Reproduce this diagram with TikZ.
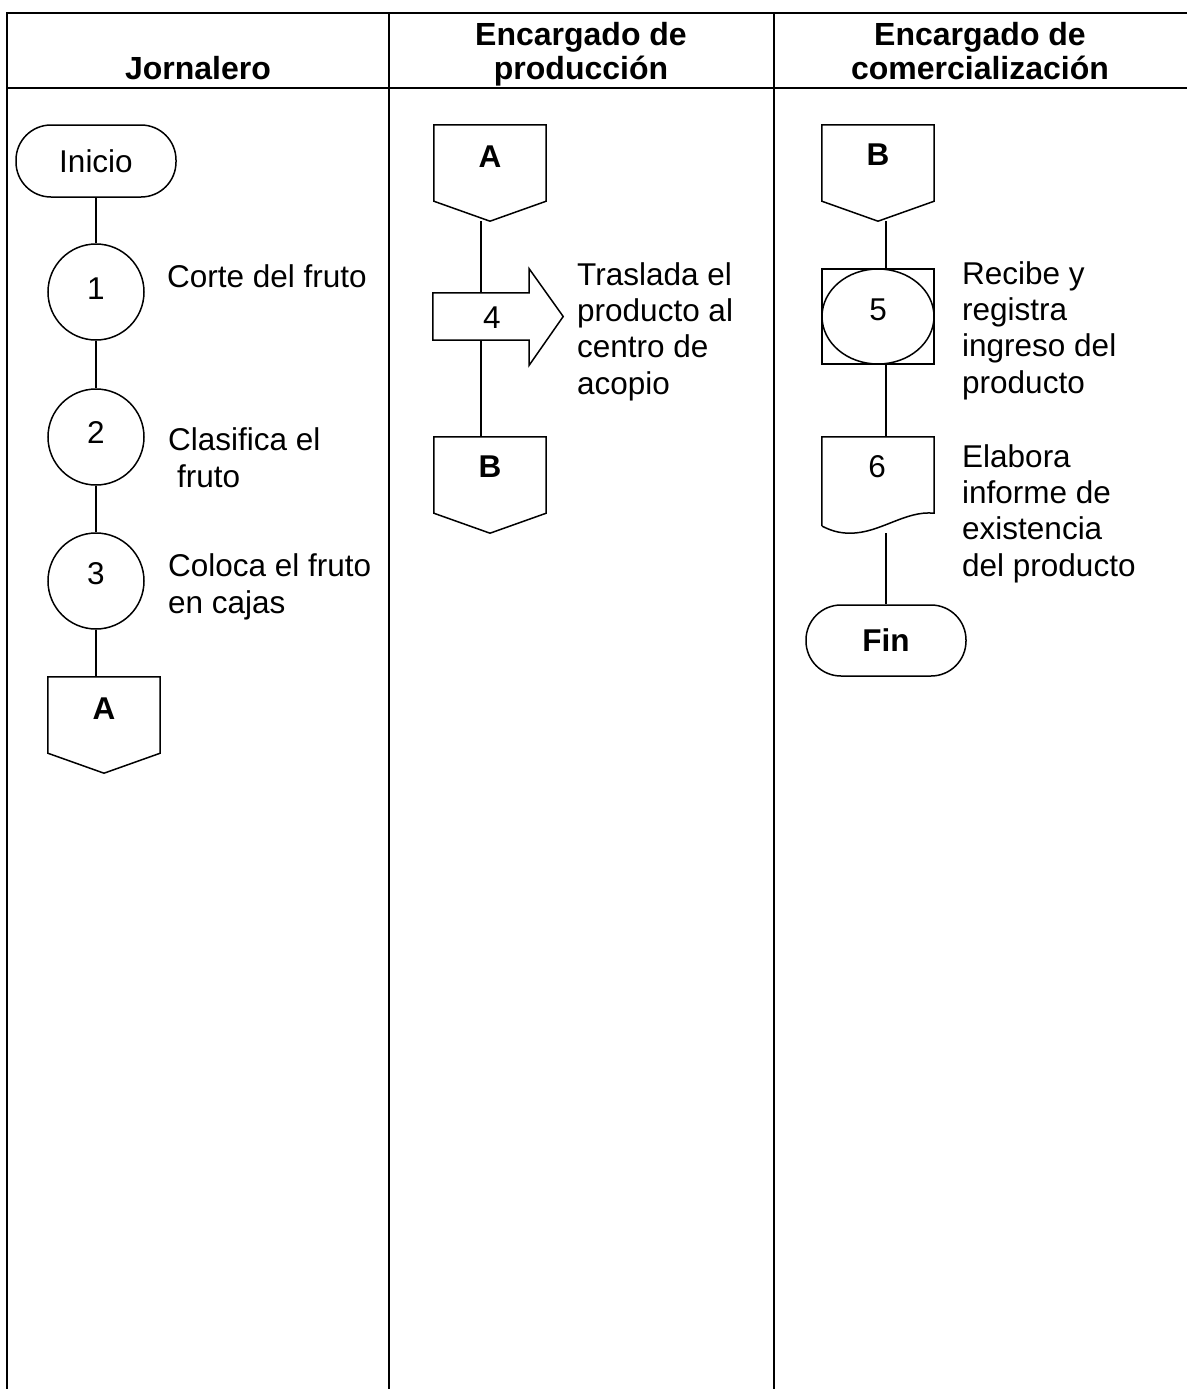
\documentclass[tikz,border=0pt]{standalone}
\usepackage{fontspec}
\setmainfont{Liberation Sans}
\usetikzlibrary{calc}
\begin{document}
\begin{tikzpicture}[x=1pt,y=-1pt,
  tbl/.style={line width=2.6pt},
  shp/.style={line width=1.5pt},
  bodytxt/.style={font=\fontsize{31.5}{36.3}\selectfont, inner sep=0pt, align=left, anchor=base west},
  headtxt/.style={font=\fontsize{32}{35}\selectfont\bfseries, inner sep=0pt, align=center, anchor=base},
  lbl/.style={font=\fontsize{31.5}{36}\selectfont, inner sep=0pt, anchor=base},
  blbl/.style={font=\fontsize{31.5}{36}\selectfont\bfseries, inner sep=0pt, anchor=base},
  circ/.style={shp, draw, circle, minimum size=96pt, inner sep=0pt},
  term/.style={shp, draw, rectangle, rounded corners=35pt, minimum width=160pt, minimum height=72pt, inner sep=0pt, font=\fontsize{31.5}{36}\selectfont},
  offp/.style={rectangle, minimum width=112pt, minimum height=96pt, inner sep=0pt},
  boxsh/.style={rectangle, inner sep=0pt}
]
\useasboundingbox (0,0) rectangle (1187,1389);
\fill[white] (0,0) rectangle (1187,1389);

% table
\draw[tbl] (7,1389) -- (7,13) -- (1187,13);
\draw[tbl] (7,88) -- (1187,88);
\draw[tbl] (389,13) -- (389,1389);
\draw[tbl] (774,13) -- (774,1389);

% headers (anchor base = baseline of last line)
\node[headtxt] (h1) at (198,79) {Jornalero};
\node[headtxt] (h2) at (581,80) {Encargado de\\producción};
\node[headtxt] (h3) at (980,80) {Encargado de\\comercialización};

% ---------- lane 1
\node[term] (ini) at (96,161) {Inicio};
\node[circ] (c1) at (96,292) {};
\node[lbl] (c1t) at (96,299) {1};
\node[circ] (c2) at (96,437) {};
\node[lbl] (c2t) at (96,443) {2};
\node[circ] (c3) at (96,581) {};
\node[lbl] (c3t) at (96,584) {3};
\node[offp] (A1) at (104,725) {};
\draw[shp] (A1.north west) -- (A1.north east) -- ([shift={(0,-20)}]A1.south east) -- (A1.south) -- ([shift={(0,-20)}]A1.south west) -- cycle;
\node[blbl] (A1t) at (104,719) {A};

\node[bodytxt] (t1) at (167,287) {Corte del fruto};
\node[bodytxt] (t2) at (168,487) {Clasifica el\\\hspace*{0.28em}fruto};
\node[bodytxt] (t3) at (168,613) {Coloca el fruto\\en cajas};

\draw[shp] (ini) -- (c1);
\draw[shp] (c1) -- (c2);
\draw[shp] (c2) -- (c3);
\draw[shp] (c3.south) -- (c3.south |- A1.north);

% ---------- lane 2
\node[offp] (A2) at (490,173) {};
\draw[shp] (A2.north west) -- (A2.north east) -- ([shift={(0,-20)}]A2.south east) -- (A2.south) -- ([shift={(0,-20)}]A2.south west) -- cycle;
\node[blbl] (A2t) at (490,167) {A};

\node[boxsh, minimum width=96pt, minimum height=47pt] (arr) at (481,316.5) {};
\draw[shp] (arr.north west) -- (arr.north east) -- ([shift={(0,-24)}]arr.north east) -- ([shift={(34,0)}]arr.east) -- ([shift={(0,25)}]arr.south east) -- (arr.south east) -- (arr.south west) -- cycle;
\node[lbl] (arrt) at (492,328) {4};

\node[offp] (B2) at (490,485) {};
\draw[shp] (B2.north west) -- (B2.north east) -- ([shift={(0,-20)}]B2.south east) -- (B2.south) -- ([shift={(0,-20)}]B2.south west) -- cycle;
\node[blbl] (B2t) at (490,477) {B};

\node[bodytxt] (t4) at (577,394) {Traslada el\\producto al\\centro de\\acopio};

\draw[shp] (A2.south -| arr.north) -- (arr.north);
\draw[shp] (arr.south) -- (arr.south |- B2.north);

% ---------- lane 3
\node[offp] (B3) at (878,173) {};
\draw[shp] (B3.north west) -- (B3.north east) -- ([shift={(0,-20)}]B3.south east) -- (B3.south) -- ([shift={(0,-20)}]B3.south west) -- cycle;
\node[blbl] (B3t) at (878,165) {B};

\node[boxsh, draw, shp, minimum width=112pt, minimum height=95pt] (b5) at (878,316.5) {};
\draw[shp] (b5.center) ellipse [x radius=56, y radius=47.5];
\node[lbl] (b5t) at (878,320) {5};

\node[boxsh, minimum width=112pt, minimum height=76pt] (d6) at (878,475) {};
\draw[shp] (d6.south west) ++(0,13) -- (d6.north west) -- (d6.north east) -- (d6.south east)
  .. controls ([shift={(-29,-3)}]d6.south east) and ([shift={(-54,20)}]d6.south east) .. ([shift={(-84,20)}]d6.south east)
  .. controls ([shift={(-96,20)}]d6.south east) and ([shift={(-104,17)}]d6.south east) .. ([shift={(-112,13)}]d6.south east);
\node[lbl] (d6t) at (877,477) {6};

\node[term, minimum height=71pt, font=\fontsize{31.5}{36}\selectfont\bfseries] (fin) at (886,640.5) {Fin};

\node[bodytxt] (t5) at (962,393) {Recibe y\\registra\\ingreso del\\producto};
\node[bodytxt] (t6) at (962,576) {Elabora\\informe de\\existencia\\del producto};

\draw[shp] (B3.south -| fin.north) -- (b5.north -| fin.north);
\draw[shp] (b5.south -| fin.north) -- (d6.north -| fin.north);
\coordinate (d6out) at ([shift={(0,20)}]d6.south -| fin.north);
\draw[shp] (d6out) -- (fin.north);
\end{tikzpicture}
\end{document}
